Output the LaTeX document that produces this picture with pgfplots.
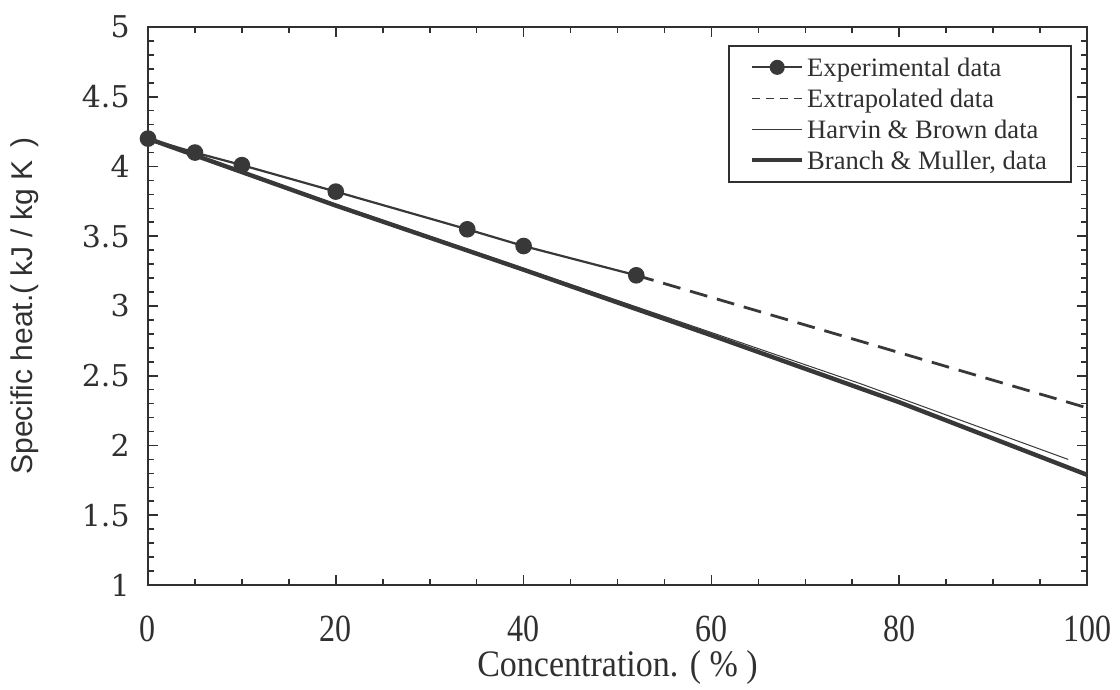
\documentclass[border=0pt]{standalone}
\usepackage{fontspec}
\setmainfont{Liberation Serif}
\newfontfamily\dvs{DejaVu Serif}
\newfontfamily\lsans{Liberation Sans}
\usepackage{pgfplots}
\pgfplotsset{compat=1.18}
\definecolor{ink}{HTML}{383838}
\definecolor{axink}{HTML}{303030}
\begin{document}
\begin{tikzpicture}
\useasboundingbox (-74pt,-52.5pt) rectangle (486pt,292.5pt);
\begin{axis}[
  width=469.5pt, height=279pt, scale only axis,
  xmin=0, xmax=100, ymin=1, ymax=5,
  xtick={0,20,40,60,80,100},
  xticklabels={0,20,40,60,80,100},
  ytick={1,1.5,2,2.5,3,3.5,4,4.5,5},
  yticklabels={1,1.5,2,2.5,3,3.5,4,4.5,5},
  minor x tick num=3, minor y tick num=4,
  tick align=inside,
  major tick length=5pt, minor tick length=3pt,
  tick style={color=axink, line width=0.8pt},
  axis line style={color=axink, line width=1.1pt},
  /pgf/number format/assume math mode=true,
  yticklabel style={font=\dvs\fontsize{15}{18}\selectfont, color=axink, inner sep=0pt, xshift=-9pt},
  xticklabel style={font=\fontsize{16}{19}\selectfont, color=axink, inner sep=0pt, yshift=-15pt, yscale=1.2},
  xlabel={Concentration. ( \% )},
  xlabel style={font=\fontsize{17}{20}\selectfont, color=axink, at={(axis description cs:0.5,-0.148)}, anchor=center, yscale=1.1},
  ylabel={Specific heat.( kJ / kg K \,)},
  ylabel style={font=\lsans\fontsize{15}{18}\selectfont, color=axink, at={(axis description cs:-0.131,0.5)}, anchor=center},
  clip=false,
  legend cell align=left,
  legend image code/.code={\draw[mark repeat=2,mark phase=2,#1] plot coordinates {(0pt,0pt)(12.5pt,0pt)(25pt,0pt)};},
  legend style={at={(axis description cs:0.984,0.968)}, anchor=north east,
    draw=axink, line width=1pt, inner xsep=10.5pt, inner ysep=3pt,
    font=\fontsize{13.3}{15}\selectfont, text=axink,
    nodes={inner sep=1.5pt, text height=11pt, text depth=1.5pt},
    row sep=0pt},
]
% legend images
\addlegendimage{color=ink, line width=1.1pt, mark=*, mark size=3.2pt, mark options={solid}}
\addlegendentry{Experimental data}
\addlegendimage{color=ink, line width=0.6pt, dash pattern=on 4pt off 3pt}
\addlegendentry{Extrapolated data}
\addlegendimage{color=ink, line width=0.5pt}
\addlegendentry{Harvin \& Brown data}
\addlegendimage{color=ink, line width=2pt}
\addlegendentry{Branch \& Muller, data}

% Branch & Muller (thick)
\addplot[forget plot, color=ink, line width=2.2pt] coordinates {
 (0,4.20) (20,3.72) (40,3.26) (60,2.79) (80,2.31) (100,1.79)};
% Harvin & Brown (thin)
\addplot[forget plot, color=ink, line width=0.5pt] coordinates {
 (0,4.19) (20,3.73) (40,3.27) (60,2.81) (76,2.44) (98,1.90)};
% Extrapolated
\addplot[forget plot, color=ink, line width=1.4pt, dash pattern=on 9pt off 5pt] coordinates {
 (52,3.22) (100,2.27)};
% Experimental
\addplot[forget plot, color=ink, line width=1.1pt, mark=*, mark size=3.6pt] coordinates {
 (0,4.20) (5,4.10) (10,4.01) (20,3.82) (34,3.55) (40,3.43) (52,3.22)};
\end{axis}
\end{tikzpicture}
\end{document}
